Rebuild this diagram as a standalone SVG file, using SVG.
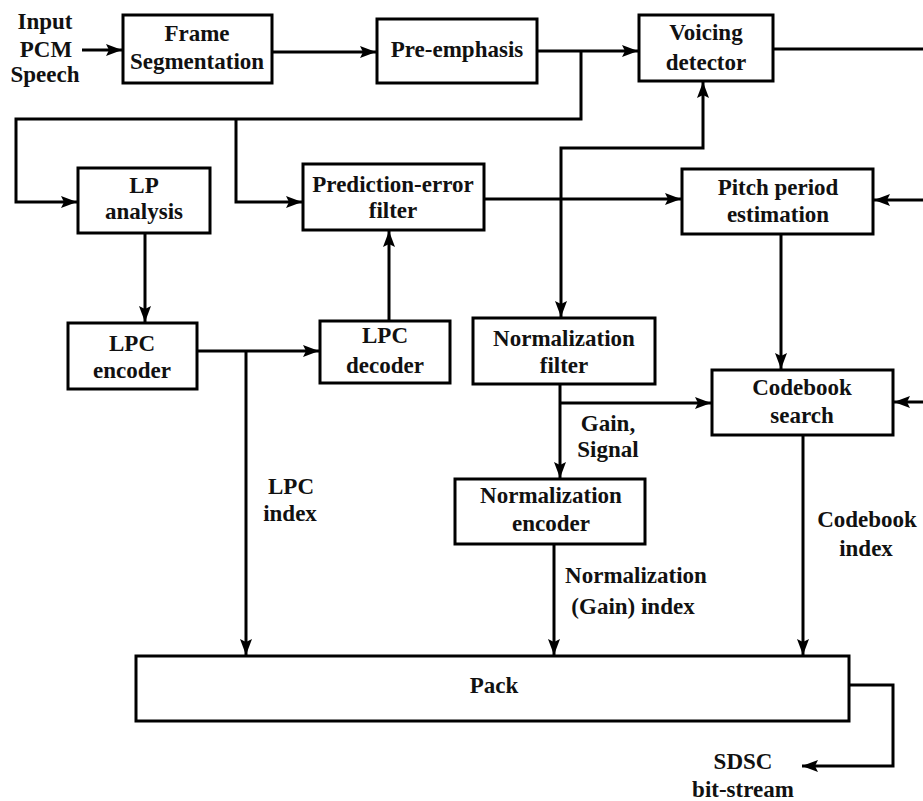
<svg xmlns="http://www.w3.org/2000/svg" width="923" height="801" viewBox="0 0 923 801">
  <defs>
    <style>
      .box { fill: #ffffff; stroke: #000000; stroke-width: 3; }
      .wire { fill: none; stroke: #000000; stroke-width: 3; }
      .arr { marker-end: url(#head); }
      text { font-family: "Liberation Serif", "Times New Roman", serif; font-weight: bold; font-size: 23px; fill: #111111; text-anchor: middle; }
    </style>
    <marker id="head" markerUnits="userSpaceOnUse" markerWidth="17" markerHeight="13" refX="16" refY="6" orient="auto">
      <path d="M0,0 L16,6 L0,12 L3,6 z" fill="#000000"/>
    </marker>
  </defs>
  <rect width="923" height="801" fill="#ffffff"/>

  <!-- connectors -->
  <g id="connectors">
    <path class="wire arr" d="M82,50 H122"/>
    <path class="wire arr" d="M272,52 H376"/>
    <path class="wire arr" d="M537,51 H638"/>
    <path class="wire arr" d="M581,51 V119 H16 V202 H77"/>
    <path class="wire arr" d="M236,119 V202 H302"/>
    <path class="wire" d="M773,49 H923"/>
    <path class="wire arr" d="M145,233 V322"/>
    <path class="wire arr" d="M197,351 H319"/>
    <path class="wire arr" d="M246,351 V655"/>
    <path class="wire arr" d="M389,321 V231"/>
    <path class="wire arr" d="M484,199 H681"/>
    <path class="wire arr" d="M561,199 V317"/>
    <path class="wire arr" d="M561,199 V148 H703 V82"/>
    <path class="wire arr" d="M923,200 H874"/>
    <path class="wire arr" d="M781,234 V369"/>
    <path class="wire arr" d="M923,402 H894"/>
    <path class="wire arr" d="M560,384 V478"/>
    <path class="wire arr" d="M560,403 H711"/>
    <path class="wire arr" d="M554,544 V655"/>
    <path class="wire arr" d="M803,435 V655"/>
    <path class="wire arr" d="M849,685 H893 V766 H802"/>
  </g>

  <!-- free labels -->
  <g id="input-label">
    <text x="45" y="29">Input</text>
    <text x="46" y="57">PCM</text>
    <text x="45" y="82">Speech</text>
  </g>
  <g id="lpc-index-label">
    <text x="291" y="494">LPC</text>
    <text x="290" y="521">index</text>
  </g>
  <g id="gain-signal-label">
    <text x="608" y="431">Gain,</text>
    <text x="608" y="457">Signal</text>
  </g>
  <g id="norm-index-label">
    <text x="636" y="583">Normalization</text>
    <text x="633" y="614">(Gain) index</text>
  </g>
  <g id="codebook-index-label">
    <text x="867" y="527">Codebook</text>
    <text x="866" y="556">index</text>
  </g>
  <g id="output-label">
    <text x="743" y="769">SDSC</text>
    <text x="743" y="797">bit-stream</text>
  </g>

  <!-- blocks -->
  <g id="frame-segmentation">
    <rect class="box" x="123" y="15" width="149" height="68"/>
    <text x="197" y="41">Frame</text>
    <text x="197" y="69">Segmentation</text>
  </g>
  <g id="pre-emphasis">
    <rect class="box" x="377" y="19" width="160" height="64"/>
    <text x="457" y="57">Pre-emphasis</text>
  </g>
  <g id="voicing-detector">
    <rect class="box" x="639" y="15" width="134" height="66"/>
    <text x="706" y="40">Voicing</text>
    <text x="706" y="70">detector</text>
  </g>
  <g id="lp-analysis">
    <rect class="box" x="78" y="168" width="132" height="65"/>
    <text x="144" y="193">LP</text>
    <text x="144" y="219">analysis</text>
  </g>
  <g id="prediction-error-filter">
    <rect class="box" x="303" y="164" width="181" height="66"/>
    <text x="393" y="192">Prediction-error</text>
    <text x="393" y="218">filter</text>
  </g>
  <g id="pitch-period-estimation">
    <rect class="box" x="682" y="169" width="191" height="65"/>
    <text x="778" y="195">Pitch period</text>
    <text x="778" y="222">estimation</text>
  </g>
  <g id="lpc-encoder">
    <rect class="box" x="68" y="323" width="129" height="66"/>
    <text x="132" y="351">LPC</text>
    <text x="132" y="378">encoder</text>
  </g>
  <g id="lpc-decoder">
    <rect class="box" x="320" y="321" width="130" height="62"/>
    <text x="385" y="343">LPC</text>
    <text x="385" y="373">decoder</text>
  </g>
  <g id="normalization-filter">
    <rect class="box" x="473" y="318" width="182" height="66"/>
    <text x="564" y="346">Normalization</text>
    <text x="564" y="373">filter</text>
  </g>
  <g id="codebook-search">
    <rect class="box" x="712" y="370" width="181" height="65"/>
    <text x="802" y="395">Codebook</text>
    <text x="802" y="423">search</text>
  </g>
  <g id="normalization-encoder">
    <rect class="box" x="455" y="479" width="190" height="65"/>
    <text x="551" y="503">Normalization</text>
    <text x="551" y="531">encoder</text>
  </g>
  <g id="pack">
    <rect class="box" x="136" y="656" width="713" height="65"/>
    <text x="494" y="693">Pack</text>
  </g>
</svg>
